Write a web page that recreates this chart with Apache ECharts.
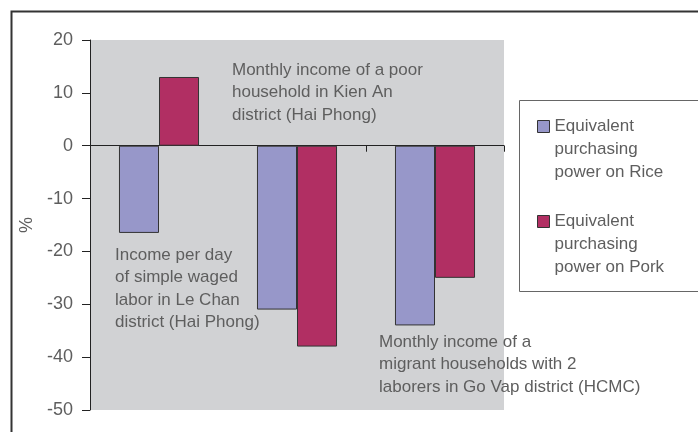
<!DOCTYPE html>
<html>
<head>
<meta charset="utf-8">
<script src="https://cdn.jsdelivr.net/npm/echarts@6/dist/echarts.min.js"></script>
<style>
  html, body { margin: 0; padding: 0; background: #fff; }
  #main { width: 698px; height: 432px; }
</style>
</head>
<body>
<div id="main"></div>
<script>
// data
const categories = ['Le Chan daily wage', 'Kien An poor household', 'Go Vap migrant household'];
const riceValues = [-16.5, -31, -34];
const porkValues = [13, -38, -25];
const seriesNames = ['Equivalent\npurchasing\npower on Rice', 'Equivalent\npurchasing\npower on Pork'];
const yTicks = [-50, -40, -30, -20, -10, 0, 10, 20];

const notes = [
  'Monthly income of a poor\nhousehold in Kien An\ndistrict (Hai Phong)',
  'Income per day\nof simple waged\nlabor in Le Chan\ndistrict (Hai Phong)',
  'Monthly income of a\nmigrant households with 2\nlaborers in Go Vap district (HCMC)'
];

function loadChart() {
  var chartDom = document.getElementById('main');
  var myChart = echarts.init(chartDom);
  var font = '"Liberation Sans", Arial, sans-serif';
  var textColor = '#5e5e5e';

  var option = {
    animation: false,
    textStyle: { fontFamily: font },
    grid: {
      left: 90, top: 40, width: 414, height: 370,
      show: true, backgroundColor: '#d1d2d4', borderWidth: 0
    },
    legend: {
      orient: 'vertical',
      left: 537, top: 69,
      padding: 0,
      itemWidth: 12, itemHeight: 12,
      itemGap: -20,
      textGap: 8,
      icon: 'rect',
      itemStyle: { borderColor: '#333', borderWidth: 1 },
      // two blank lines on top so the first text line sits level with the icon
      formatter: function (name) { return '\n\n' + name; },
      textStyle: { fontFamily: font, fontSize: 17, color: textColor, lineHeight: 23 },
      data: seriesNames
    },
    xAxis: {
      type: 'category',
      data: categories,
      axisLine: { onZero: true, lineStyle: { color: '#222', width: 1 } },
      axisTick: { show: true, length: 6, lineStyle: { color: '#222' } },
      axisLabel: { show: false },
      splitLine: { show: false }
    },
    yAxis: {
      type: 'value',
      min: yTicks[0], max: yTicks[yTicks.length - 1], interval: 10,
      name: '%',
      nameLocation: 'middle',
      nameGap: 45,
      nameTextStyle: { fontFamily: font, fontSize: 18, color: textColor },
      axisLine: { show: true, lineStyle: { color: '#222', width: 1 } },
      axisTick: { show: true, length: 8, lineStyle: { color: '#222' } },
      axisLabel: { margin: 17, fontSize: 18, color: textColor, fontFamily: font },
      splitLine: { show: false }
    },
    series: [
      {
        name: seriesNames[0], type: 'bar', data: riceValues,
        barGap: '0%', barCategoryGap: '42%',
        itemStyle: { color: '#9797c9', borderColor: '#333', borderWidth: 1 }
      },
      {
        name: seriesNames[1], type: 'bar', data: porkValues,
        barGap: '0%', barCategoryGap: '42%',
        itemStyle: { color: '#b12f63', borderColor: '#333', borderWidth: 1 }
      }
    ],
    graphic: [
      { type: 'rect', silent: true, z: 100,
        shape: { x: 11.5, y: 11.5, width: 1000, height: 1000 },
        style: { fill: 'none', stroke: '#333', lineWidth: 2 } },
      { type: 'rect', silent: true, z: 100,
        shape: { x: 519.5, y: 100.5, width: 400, height: 191 },
        style: { fill: 'none', stroke: '#666', lineWidth: 1 } },
      { type: 'text', left: 232, top: 59, z: 100,
        style: { text: notes[0], font: '17px ' + font, fill: textColor, lineHeight: 22.5 } },
      { type: 'text', left: 115, top: 244, z: 100,
        style: { text: notes[1], font: '17px ' + font, fill: textColor, lineHeight: 22.5 } },
      { type: 'text', left: 379, top: 331, z: 100,
        style: { text: notes[2], font: '17px ' + font, fill: textColor, lineHeight: 22.5 } }
    ]
  };

  myChart.setOption(option);
}

document.addEventListener('DOMContentLoaded', () => {
  loadChart();
});
</script>
</body>
</html>
